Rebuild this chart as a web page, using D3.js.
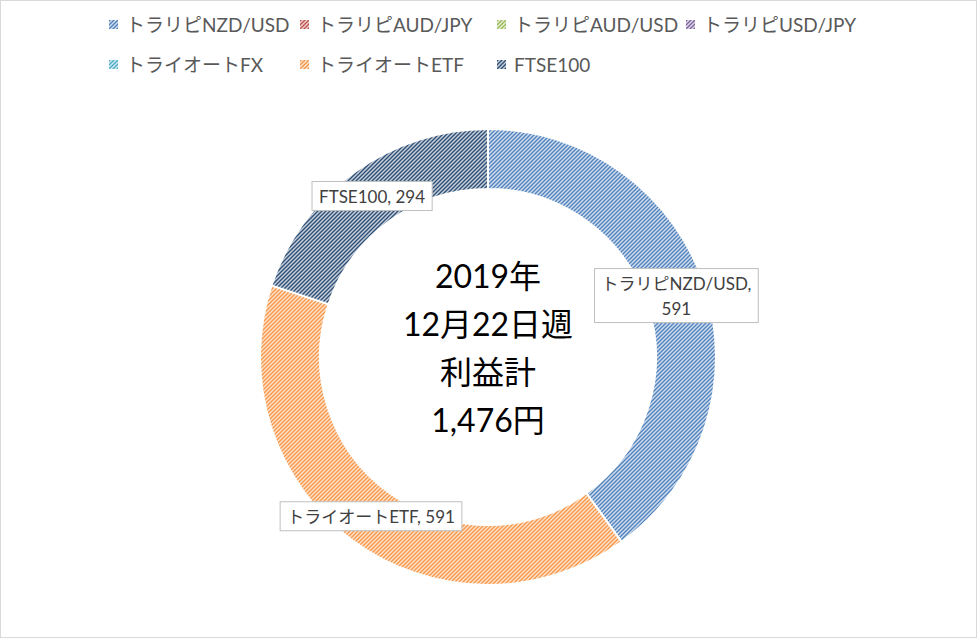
<!DOCTYPE html>
<html>
<head>
<meta charset="utf-8">
<script src="https://cdn.jsdelivr.net/npm/d3@7"></script>
<style>
  body { margin: 0; background: #fff; }
  text { font-family: Lato, "Noto Sans CJK JP", sans-serif; }
</style>
</head>
<body>
<script>
// data
var categories = ['トラリピNZD/USD', 'トラリピAUD/JPY', 'トラリピAUD/USD', 'トラリピUSD/JPY',
                  'トライオートFX', 'トライオートETF', 'FTSE100'];
var values = [591, 0, 0, 0, 0, 591, 294];
var colors = ['#4F81BD', '#C0504D', '#9BBB59', '#8064A2', '#4BACC6', '#F79646', '#2C4D75'];
var centerLines = ['2019年', '12月22日週', '利益計', '1,476円'];

var W = 977, H = 638;
var cx = 488, cy = 357;
var outerR = 228, innerR = 168;

var svg = d3.select('body').append('svg')
            .attr('width', W)
            .attr('height', H);

// chart border
svg.append('rect')
   .attr('x', 0.5).attr('y', 0.5)
   .attr('width', W - 1).attr('height', H - 1)
   .attr('fill', '#fff')
   .attr('stroke', '#D9D9D9');

// hatch patterns, one per series
var defs = svg.append('defs');
colors.forEach(function(c, i) {
  var p = defs.append('pattern')
              .attr('id', 'hatch' + i)
              .attr('patternUnits', 'userSpaceOnUse')
              .attr('width', 4)
              .attr('height', 4);
  p.append('rect')
   .attr('width', 4).attr('height', 4)
   .attr('fill', d3.interpolateRgb(c, '#fff')(0.72));
  p.append('path')
   .attr('d', 'M-1,1 l2,-2 M0,4 l4,-4 M3,5 l2,-2')
   .attr('stroke', c)
   .attr('stroke-width', 1.3);
});

var pie = d3.pie().sort(null).value(function(d) { return d; });
var arcs = pie(values);
var arc = d3.arc().innerRadius(innerR).outerRadius(outerR);
var labelArc = d3.arc().innerRadius((innerR + outerR) / 2).outerRadius((innerR + outerR) / 2);

var g = svg.append('g')
           .attr('transform', 'translate(' + cx + ',' + cy + ')');

g.selectAll('path.slice')
 .data(arcs)
 .enter()
 .append('path')
 .attr('class', 'slice')
 .filter(function(d) { return d.value > 0; })
 .attr('d', arc)
 .attr('fill', function(d, i) { return 'url(#hatch' + d.index + ')'; })
 .attr('stroke', '#fff')
 .attr('stroke-width', 2);

// center text
g.selectAll('text.center')
 .data(centerLines)
 .enter()
 .append('text')
 .attr('class', 'center')
 .attr('text-anchor', 'middle')
 .attr('x', 0)
 .attr('y', function(d, i) { return -69 + i * 48; })
 .attr('font-size', 32)
 .attr('fill', '#000')
 .text(function(d) { return d; });

// data labels with box
var labels = g.selectAll('g.label')
              .data(arcs.filter(function(d) { return d.value > 0; }))
              .enter()
              .append('g')
              .attr('class', 'label')
              .attr('transform', function(d) {
                var c = labelArc.centroid(d);
                return 'translate(' + c[0] + ',' + c[1] + ')';
              });

labels.each(function(d) {
  var grp = d3.select(this);
  var full = categories[d.index] + ', ' + d3.format(',')(d.value);
  var t = grp.append('text')
             .attr('text-anchor', 'middle')
             .attr('font-size', 17)
             .attr('fill', '#404040')
             .text(full);
  var lines = [full];
  if (t.node().getComputedTextLength() > 172) {
    lines = [categories[d.index] + ',', d3.format(',')(d.value)];
  }
  t.text(null);
  var lh = 25;
  lines.forEach(function(s, k) {
    t.append('tspan')
     .attr('x', 0)
     .attr('y', (k - (lines.length - 1) / 2) * lh + 6)
     .text(s);
  });
  var bb = t.node().getBBox();
  var padX = 7, padY = 4;
  grp.insert('rect', ':first-child')
     .attr('x', bb.x - padX)
     .attr('y', bb.y - padY)
     .attr('width', bb.width + padX * 2)
     .attr('height', bb.height + padY * 2)
     .attr('fill', '#fff')
     .attr('stroke', '#BFBFBF');
});

// legend
var colX = [113, 304, 501, 690];
var rowY = [25, 65];
var legend = svg.selectAll('g.legend')
                .data(categories)
                .enter()
                .append('g')
                .attr('class', 'legend')
                .attr('transform', function(d, i) {
                  return 'translate(' + colX[i % 4] + ',' + rowY[Math.floor(i / 4)] + ')';
                });
legend.append('rect')
      .attr('x', -4).attr('y', -5)
      .attr('width', 9).attr('height', 9)
      .attr('fill', function(d, i) { return 'url(#hatch' + i + ')'; });
legend.append('text')
      .attr('x', 13)
      .attr('y', 7)
      .attr('font-size', 19)
      .attr('fill', '#595959')
      .text(function(d) { return d; });
</script>
</body>
</html>
